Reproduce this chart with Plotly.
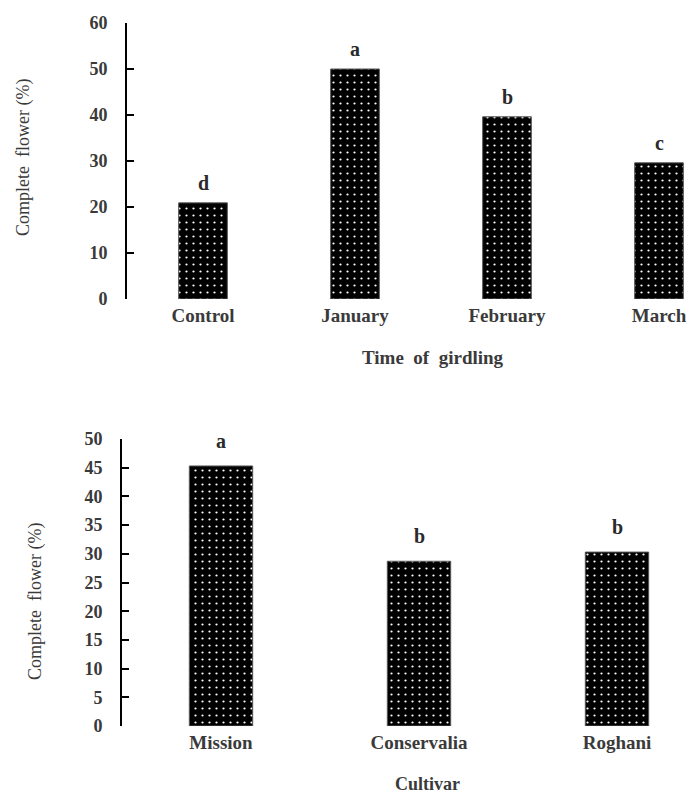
import plotly.graph_objects as go

# Top chart data
girdling_times = ["Control", "January", "February", "March"]
girdling_values = [20.9, 50.0, 39.6, 29.6]
girdling_letters = ["d", "a", "b", "c"]

# Bottom chart data
cultivars = ["Mission", "Conservalia", "Roghani"]
cultivar_values = [45.3, 28.7, 30.3]
cultivar_letters = ["a", "b", "b"]

top_ticks = [0, 10, 20, 30, 40, 50, 60]
bottom_ticks = [0, 5, 10, 15, 20, 25, 30, 35, 40, 45, 50]

W, H = 692, 794
FONT = "Liberation Serif"
TXT = "#3a3a3a"


def px_x(p):
    return p / W


def px_y(p):
    return 1 - p / H


pattern = dict(shape=".", fgcolor="white", bgcolor="black", size=7, solidity=0.08, fillmode="replace")

fig = go.Figure()
fig.add_trace(go.Bar(
    x=girdling_times, y=girdling_values, width=0.32,
    marker=dict(color="black", pattern=pattern, line=dict(color="#555", width=1)),
    xaxis="x", yaxis="y", showlegend=False,
))
fig.add_trace(go.Bar(
    x=cultivars, y=cultivar_values, width=0.32,
    marker=dict(color="black", pattern=pattern, line=dict(color="#555", width=1)),
    xaxis="x2", yaxis="y2", showlegend=False,
))

# Plot geometry (window pixels)
t_left, t_top, t_bot = 127, 23, 299
t_step = 152
b_left, b_top, b_bot = 122, 439, 726
b_step = 198

xtick_font = dict(family=FONT, size=19, color=TXT, weight="bold")
ytick_font = dict(family=FONT, size=18, color=TXT, weight="bold")

common_y = dict(
    showline=True, linecolor="black", linewidth=2,
    ticks="inside", ticklen=7, tickcolor="black", tickwidth=2,
    showgrid=False, zeroline=False, tickfont=ytick_font,
    ticklabelstandoff=14, automargin=False,
)
common_x = dict(
    showline=False, showgrid=False, ticks="", zeroline=False,
    tickfont=xtick_font, ticklabelstandoff=3, automargin=False,
)

fig.update_layout(
    width=W, height=H,
    margin=dict(l=0, r=0, t=0, b=0, autoexpand=False),
    paper_bgcolor="white", plot_bgcolor="white",
    xaxis=dict(domain=[px_x(t_left), 1], anchor="y",
               range=[-0.5, (W - t_left) / t_step - 0.5], **common_x),
    yaxis=dict(domain=[px_y(t_bot), px_y(t_top)], anchor="x",
               range=[0, 60], tickvals=top_ticks, **common_y),
    xaxis2=dict(domain=[px_x(b_left), 1], anchor="y2",
                range=[-0.5, (W - b_left) / b_step - 0.5], **common_x),
    yaxis2=dict(domain=[px_y(b_bot), px_y(b_top)], anchor="x2",
                range=[0, 50], tickvals=bottom_ticks, **common_y),
)

annotations = [
    dict(text="Complete  flower (%)", x=px_x(23), y=px_y(158), xref="paper", yref="paper",
         textangle=-90, showarrow=False, font=dict(family=FONT, size=18, color=TXT),
         xanchor="center", yanchor="middle"),
    dict(text="<b>Time  of  girdling</b>", x=px_x(433), y=px_y(357), xref="paper", yref="paper",
         showarrow=False, font=dict(family=FONT, size=19, color=TXT),
         xanchor="center", yanchor="middle"),
    dict(text="Complete  flower (%)", x=px_x(35), y=px_y(602), xref="paper", yref="paper",
         textangle=-90, showarrow=False, font=dict(family=FONT, size=18, color=TXT),
         xanchor="center", yanchor="middle"),
    dict(text="<b>Cultivar</b>", x=px_x(427), y=px_y(784), xref="paper", yref="paper",
         showarrow=False, font=dict(family=FONT, size=18, color=TXT),
         xanchor="center", yanchor="middle"),
]
for cat, val, lab in zip(girdling_times, girdling_values, girdling_letters):
    annotations.append(dict(text=f"<b>{lab}</b>", x=cat, y=val, xref="x", yref="y",
                            showarrow=False, yshift=20, xanchor="center", yanchor="middle",
                            font=dict(family=FONT, size=20, color="#2a2a2a")))
for cat, val, lab in zip(cultivars, cultivar_values, cultivar_letters):
    annotations.append(dict(text=f"<b>{lab}</b>", x=cat, y=val, xref="x2", yref="y2",
                            showarrow=False, yshift=25, xanchor="center", yanchor="middle",
                            font=dict(family=FONT, size=20, color="#2a2a2a")))
fig.update_layout(annotations=annotations)

fig.write_html(
    "out.html",
    config={"displayModeBar": False},
    post_script="document.body.style.margin='0';document.body.style.overflow='hidden';",
)
